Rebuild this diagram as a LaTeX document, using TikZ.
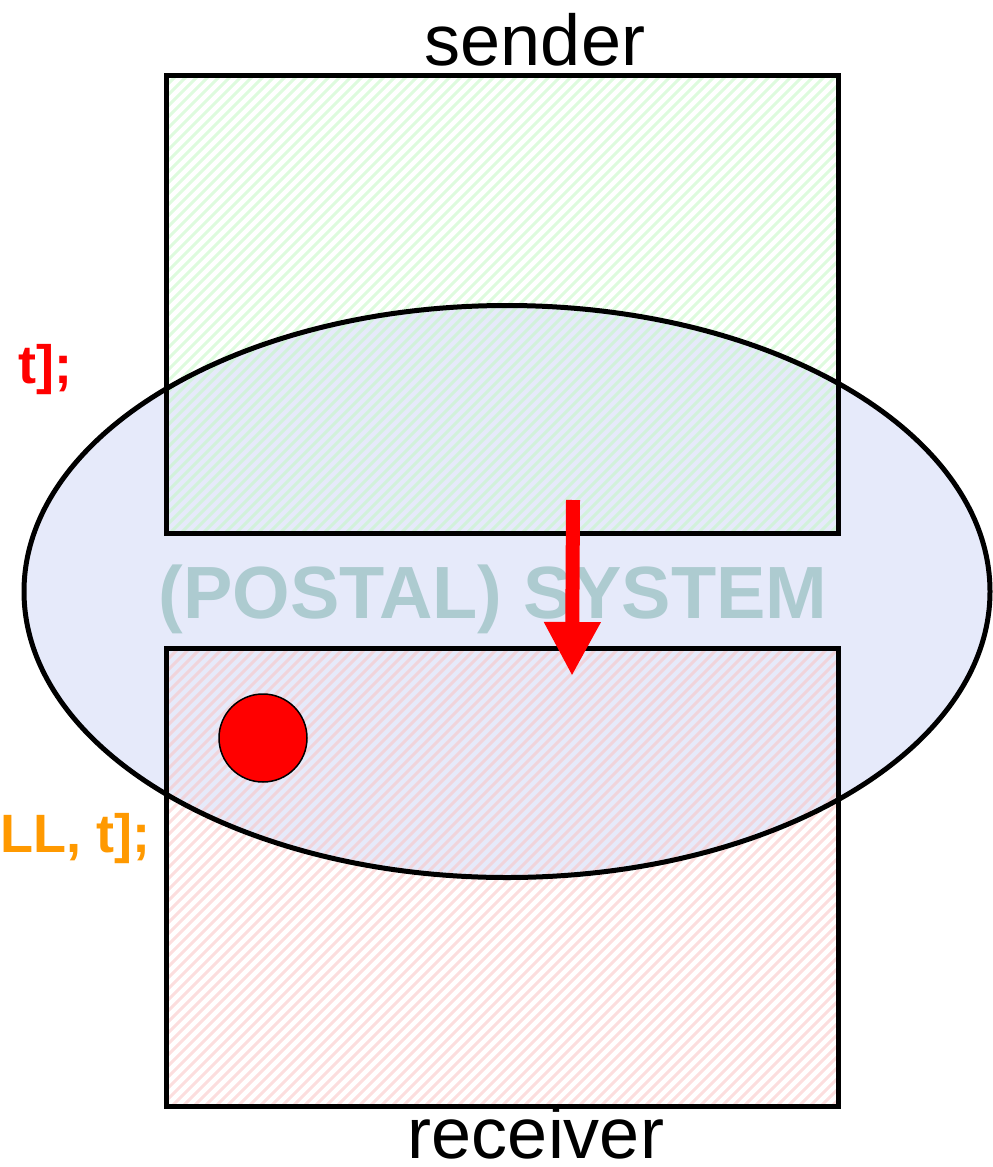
\documentclass[tikz,border=0pt]{standalone}
\usepackage{fontspec}
\setmainfont{Liberation Sans}
\usetikzlibrary{arrows.meta}
\definecolor{hatchgreen}{RGB}{195,248,195}
\definecolor{hatchpink}{RGB}{250,195,195}
\definecolor{ellfill}{RGB}{230,234,250}
\definecolor{systext}{RGB}{173,203,208}
\definecolor{lblorange}{RGB}{255,153,0}
\tikzset{
  boxline/.style={draw=black, line width=5pt},
  ellstyle/.style={fill=ellfill},
  elline/.style={draw=black, line width=5pt},
  hatchline/.style={line width=3pt, opacity=0.55},
  bigsans/.style={font=\fontsize{72}{80}\selectfont, inner sep=0pt},
  codelbl/.style={font=\bfseries\fontsize{54}{60}\selectfont, inner sep=0pt, anchor=base east},
}
\begin{document}
\begin{tikzpicture}[x=1pt,y=-1pt]
\useasboundingbox (0,0) rectangle (993,1167);
% ellipse system fill
\coordinate (sys) at (507,591.5);
\fill[ellstyle] (sys) ellipse [x radius=483, y radius=286];
% sender box hatching
\begin{scope}
  \clip (166,75) rectangle (838,533);
  \foreach \c in {230,241,...,1390} {
    \draw[hatchline, hatchgreen] (\c-540,540) -- (\c-70,70);
  }
\end{scope}
% receiver box hatching
\begin{scope}
  \clip (166,648) rectangle (838,1106);
  \foreach \c in {805,816,...,1965} {
    \draw[hatchline, hatchpink] (\c-1110,1110) -- (\c-640,640);
  }
\end{scope}
\node[boxline, minimum width=672pt, minimum height=458pt, inner sep=0pt] (sender) at (502,304) {};
\node[boxline, minimum width=672pt, minimum height=458pt, inner sep=0pt] (receiver) at (502,877) {};
% ellipse outline
\draw[elline] (sys) ellipse [x radius=483, y radius=286];
\node[bigsans, font=\bfseries\fontsize{74}{80}\selectfont, text=systext, anchor=base] (systemlbl) at (493,618) {(POSTAL) SYSTEM};
% labels
\node[bigsans, anchor=base] (senderlbl) at (535,65) {sender};
\node[bigsans, anchor=base] (receiverlbl) at (536,1158) {receiver};
\node[codelbl, text=red] (lblred) at (73,383) {t];};
\node[codelbl, text=lblorange] (lblorange) at (151,852) {LL, t];};
% message arrow
\coordinate (arrstart) at (573,500);
\coordinate (arrend) at (572,676);
\draw[red, line width=14pt, -{Triangle[width=53pt,length=54pt]}] (arrstart) -- (arrend);
% message dot
\node[circle, fill=red, draw=black, line width=1.5pt, minimum size=88pt, inner sep=0pt] (dot) at (263,738) {};
\end{tikzpicture}
\end{document}
